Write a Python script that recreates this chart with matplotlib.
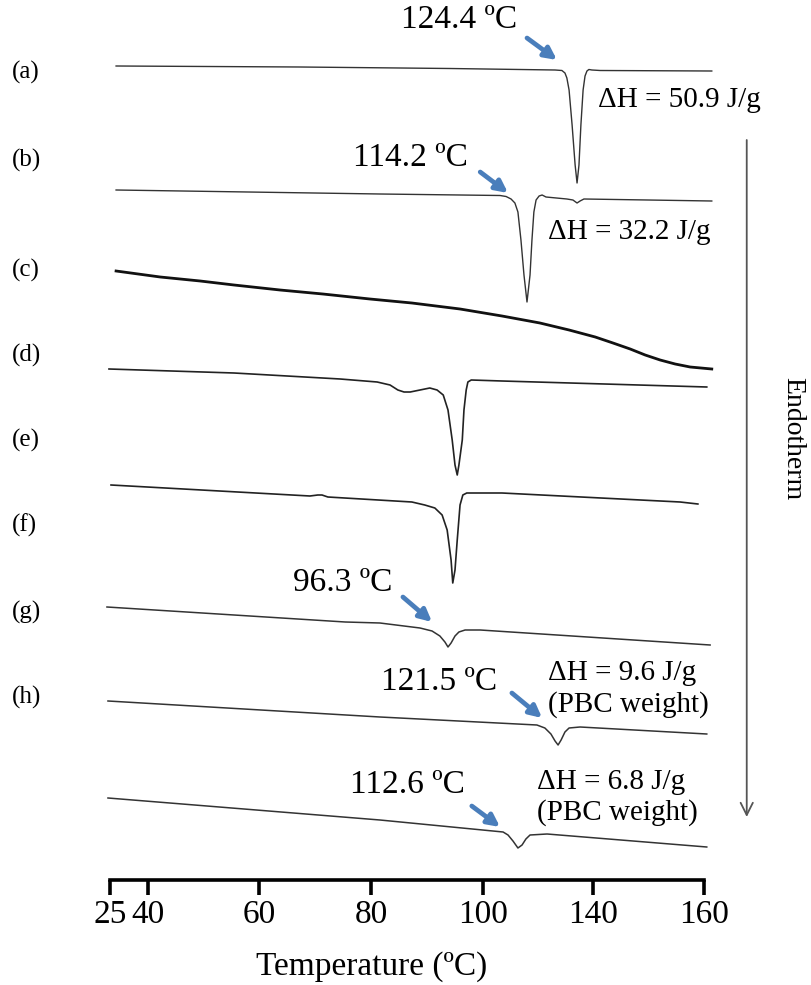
import numpy as np
import matplotlib
matplotlib.use("Agg")
import matplotlib.pyplot as plt

plt.rcParams['font.family'] = ['Liberation Serif', 'DejaVu Serif']

# ---- data (temperature in C, heat flow in a.u.) ----
TICK_TEMPS = [25, 40, 60, 80, 100, 140, 160]
TICK_LABELS = ['25', '40', '60', '80', '100', '140', '160']
SAMPLE_LABELS = ['(a)', '(b)', '(c)', '(d)', '(e)', '(f)', '(g)', '(h)']

t_a = [27.4, 67.3, 94.1, 126.2, 128.7, 129.8, 130.5, 131.3, 132.4, 133.5, 134.2,
       134.9, 135.6, 136.4, 137.1, 137.8, 138.5, 139.6, 141.3, 161.4]
y_a = [81.4, 81.3, 81.15, 81.0, 80.95, 80.7, 80.2, 79.0, 75.5, 71.5, 69.7,
       71.5, 75.5, 79.0, 80.4, 80.9, 81.05, 81.0, 80.95, 80.9]

t_b = [27.4, 81.6, 106.2, 108.4, 110.2, 111.6, 112.7, 113.8, 114.9, 116.0, 117.1,
       117.8, 118.5, 119.3, 120.4, 121.5, 122.9, 130.5, 132.7, 134.2, 135.3,
       136.7, 161.4]
y_b = [69.0, 68.6, 68.45, 68.35, 68.1, 67.7, 66.8, 64.0, 60.5, 57.8, 60.5,
       64.0, 66.8, 68.0, 68.4, 68.5, 68.3, 68.1, 68.0, 67.7, 67.9,
       68.1, 67.9]

t_c = [27.4, 42.2, 49.4, 55.5, 63.75, 71.4, 79.8, 87.3, 95.9, 106.9, 120.7,
       131.3, 140.4, 143.6, 146.7, 149.4, 152.1, 154.8, 157.5, 161.4]
y_c = [60.9, 60.3, 59.9, 59.5, 59.0, 58.6, 58.1, 57.7, 57.1, 56.4, 55.7,
       55.0, 54.3, 53.7, 53.1, 52.5, 52.0, 51.6, 51.3, 51.1]

t_d = [24.6, 55.5, 74.5, 81.1, 83.4, 84.8, 85.9, 87.0, 88.75, 90.5, 91.8, 92.9,
       93.75, 94.5, 95.0, 95.4, 95.7, 96.3, 96.6, 97.0, 97.3, 97.9, 106.9, 160.5]
y_d = [51.1, 50.7, 50.1, 49.8, 49.5, 49.0, 48.8, 48.8, 49.0, 49.2, 49.0, 48.5,
       47.0, 44.0, 41.5, 40.5, 41.5, 44.0, 47.0, 49.0, 49.8, 50.0, 49.9, 49.3]

t_e = [25.4, 69.1, 70.5, 71.25, 72.3, 87.3, 89.6, 91.4, 92.7, 93.6, 94.3, 94.6,
       95.0, 95.4, 95.9, 96.4, 97.1, 106.9, 155.7, 158.9]
y_e = [39.5, 38.4, 38.5, 38.5, 38.3, 37.8, 37.5, 37.2, 36.5, 35.0, 32.0, 29.7,
       31.0, 34.0, 37.5, 38.5, 38.7, 38.7, 37.8, 37.6]

t_f = [23.8, 55.5, 75.4, 81.6, 88.75, 90.9, 92.3, 93.2, 93.75, 94.3, 95.0, 95.7,
       96.8, 99.5, 161.1]
y_f = [27.3, 26.5, 25.8, 25.7, 25.2, 24.9, 24.4, 23.8, 23.3, 23.7, 24.4, 24.8,
       25.0, 25.0, 23.5]

t_g = [24.2, 81.6, 119.6, 122.5, 124.7, 126.2, 127.3, 128.4, 129.8, 131.3, 135.3, 160.5]
y_g = [17.9, 16.3, 15.5, 15.2, 14.6, 13.9, 13.5, 14.0, 14.8, 15.2, 15.3, 14.6]

t_h = [24.2, 81.6, 107.3, 109.1, 110.9, 112.7, 114.2, 115.6, 117.1, 123.3, 160.5]
y_h = [8.2, 6.0, 4.8, 4.5, 3.9, 3.2, 3.5, 4.1, 4.5, 4.6, 3.3]

PEAK_TEXT = ['124.4 ºC', '114.2 ºC', '96.3 ºC', '121.5 ºC', '112.6 ºC']
ENTHALPY_TEXT = ['ΔH = 50.9 J/g', 'ΔH = 32.2 J/g', 'ΔH = 9.6 J/g', 'ΔH = 6.8 J/g']

# the printed temperature axis is not linear: each labelled tick is one step
T_KNOTS = [10, 25, 40, 60, 80, 100, 140, 160, 180]
P_KNOTS = [-38, 0, 38, 149, 261, 373, 483, 594, 705]


def fwd(t):
    return np.interp(t, T_KNOTS, P_KNOTS)


def inv(p):
    return np.interp(p, P_KNOTS, T_KNOTS)


fig = plt.figure(figsize=(8.12, 9.85), dpi=100)
ax = fig.add_axes([110 / 812, 1 - 880 / 985, 594 / 812, 880 / 985])
ax.set_xscale('function', functions=(fwd, inv))
ax.set_xlim(25, 160)
ax.set_ylim(0, 88)

curves = [(t_a, y_a, 1.0, '#333333'), (t_b, y_b, 1.0, '#333333'),
          (t_c, y_c, 2.0, '#111111'), (t_d, y_d, 1.2, '#222222'),
          (t_e, y_e, 1.2, '#222222'), (t_f, y_f, 1.1, '#333333'),
          (t_g, y_g, 1.1, '#333333'), (t_h, y_h, 1.1, '#333333')]
for t, y, lw, col in curves:
    ax.plot(t, y, color=col, lw=lw, clip_on=False, solid_joinstyle='round')

# peak annotations with blue arrows
blue = '#4a7ebb'
peaks = [((112.4, 86.0), (116.0, 84.2), (126.9, 82.0)),
         ((97.3, 72.2), (99.5, 70.8), (109.1, 68.7)),
         ((83.9, 29.7), (85.7, 28.3), (90.9, 25.8)),
         ((105.1, 19.8), (110.5, 18.7), (121.5, 16.2)),
         ((96.8, 9.5), (98.0, 7.4), (106.2, 5.3))]
for txt, (tpos, a0, a1) in zip(PEAK_TEXT, peaks):
    ax.text(tpos[0], tpos[1], txt, fontsize=24, ha='right', va='center')
    ax.annotate('', xy=a1, xytext=a0,
                arrowprops=dict(arrowstyle='-|>', color=blue, lw=3.4,
                                mutation_scale=18, shrinkA=0, shrinkB=0))

ax.text(140.9, 78.0, ENTHALPY_TEXT[0], fontsize=21, va='center')
ax.text(123.6, 64.8, ENTHALPY_TEXT[1], fontsize=21, va='center')
ax.text(123.6, 20.7, ENTHALPY_TEXT[2], fontsize=21, va='center')
ax.text(123.6, 17.5, '(PBC weight)', fontsize=21, va='center')
ax.text(119.6, 9.8, ENTHALPY_TEXT[3], fontsize=21, va='center')
ax.text(119.6, 6.7, '(PBC weight)', fontsize=21, va='center')

# endotherm direction
ax.annotate('', xy=(167.7, 6.3), xytext=(167.7, 74.0), annotation_clip=False,
            arrowprops=dict(arrowstyle='->', color='#555555', lw=1.3,
                            mutation_scale=22, shrinkA=0, shrinkB=0))
ax.text(176.0, 44.1, 'Endotherm', fontsize=20, rotation=-90,
        ha='center', va='center')

# sample letters on the left
label_y = [72, 160, 270, 355, 440, 525, 612, 697]
for lab, py in zip(SAMPLE_LABELS, label_y):
    fig.text(12 / 812, 1 - py / 985, lab, fontsize=18, va='center')

for side in ['top', 'right', 'left']:
    ax.spines[side].set_visible(False)
ax.spines['bottom'].set_linewidth(2.6)
ax.set_yticks([])
ax.set_xticks(TICK_TEMPS)
ax.set_xticklabels(TICK_LABELS, fontsize=24)
ax.tick_params(axis='x', direction='out', length=11, width=2.6, pad=3)
ax.set_xlabel('Temperature (ºC)', fontsize=24)
ax.xaxis.set_label_coords((372 - 110) / 594, -(967 - 880) / 880)
ax.xaxis.label.set_va('center')

fig.savefig('out.png', dpi=100)
